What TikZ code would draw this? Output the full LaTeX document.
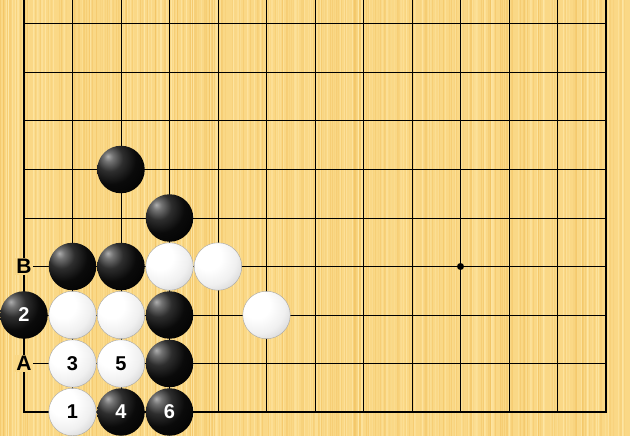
\documentclass[tikz,border=0pt]{standalone}
\usepackage{fontspec}
\setmainfont{Liberation Sans}
\definecolor{wood}{RGB}{250,216,134}
\definecolor{wooddark}{RGB}{242,194,96}
\definecolor{woodlight}{RGB}{255,234,172}
\pgfdeclareradialshading{bstone}{\pgfpoint{-14bp}{14bp}}{color(0bp)=(black!32); color(5bp)=(black!55); color(14bp)=(black!82); color(26bp)=(black!96); color(44bp)=(black); color(50bp)=(black!80); color(100bp)=(black!80)}
\pgfdeclareradialshading{wstone}{\pgfpoint{-12bp}{12bp}}{color(0bp)=(white); color(14bp)=(white); color(28bp)=(black!6); color(38bp)=(black!16); color(46bp)=(black!30); color(50bp)=(black!45); color(100bp)=(black!45)}
\tikzset{
  grid/.style={black, line width=1pt},
  edge/.style={black, line width=1.4pt},
  bst/.style={circle, minimum size=47.5pt, inner sep=0pt, shading=bstone, text=white, font=\bfseries\fontsize{20}{20}\selectfont},
  wst/.style={circle, minimum size=47.5pt, inner sep=0pt, shading=wstone, draw=black!35, line width=0.4pt, text=black, font=\bfseries\fontsize{20}{20}\selectfont},
  lbl/.style={fill=wood, inner sep=1.5pt, font=\bfseries\fontsize{21}{21}\selectfont},
  star/.style={circle, fill=black, inner sep=0pt, minimum size=7pt}
}
\begin{document}
\begin{tikzpicture}
\useasboundingbox (0,0) rectangle (630pt,-436pt);
\fill[wood] (0,0) rectangle (630pt,-436pt);
\pgfmathsetseed{11}
\foreach \i in {1,...,300}{
  \pgfmathsetmacro\xx{rnd*630}
  \pgfmathsetmacro\op{0.15+0.35*rnd}
  \draw[wooddark, opacity=\op, line width=0.6pt] (\xx pt,0) -- (\xx pt,-436pt);
}
\foreach \i in {1,...,200}{
  \pgfmathsetmacro\xx{rnd*630}
  \pgfmathsetmacro\op{0.25+0.4*rnd}
  \draw[woodlight, opacity=\op, line width=0.6pt] (\xx pt,0) -- (\xx pt,-436pt);
}
\begin{scope}[shift={(24pt,-24pt)}, x=48.5pt, y=-48.5pt]
  \foreach \i in {1,...,11} \draw[grid] (\i,-0.4948) -- (\i,8);
  \foreach \j in {0,...,7} \draw[grid] (0,\j) -- (12,\j);
  \draw[edge] (0,-0.4948) -- (0,8) -- (12,8) -- (12,-0.4948);
  \node[star] (hoshi) at (9,5) {};
  % labels
  \node[lbl] (B) at (0,5) {B};
  \node[lbl] (A) at (0,7) {A};
  % black stones
  \node[bst] (b1) at (2,3) {};
  \node[bst] (b2) at (3,4) {};
  \node[bst] (b3) at (1,5) {};
  \node[bst] (b4) at (2,5) {};
  \node[bst] (m2) at (0,6) {2};
  \node[bst] (b5) at (3,6) {};
  \node[bst] (b6) at (3,7) {};
  \node[bst] (m4) at (2,8) {4};
  \node[bst] (m6) at (3,8) {6};
  % white stones
  \node[wst] (w1) at (3,5) {};
  \node[wst] (w2) at (4,5) {};
  \node[wst] (w3) at (5,6) {};
  \node[wst] (w4) at (1,6) {};
  \node[wst] (w5) at (2,6) {};
  \node[wst] (m3) at (1,7) {3};
  \node[wst] (m5) at (2,7) {5};
  \node[wst] (m1) at (1,8) {1};
\end{scope}
\end{tikzpicture}
\end{document}
